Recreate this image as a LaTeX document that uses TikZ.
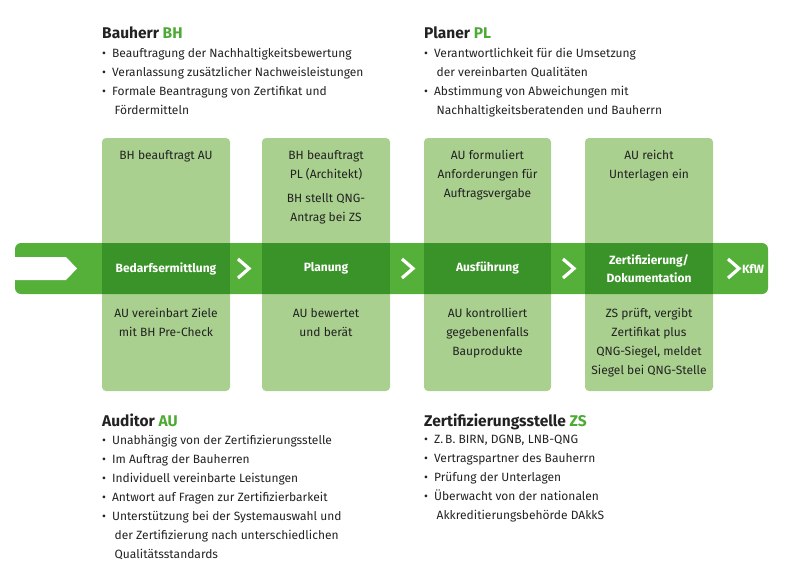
\documentclass[tikz,border=0pt]{standalone}
\usepackage{fontspec}
\setmainfont{Fira Sans}
\usetikzlibrary{calc}
\definecolor{band}{HTML}{55B03A}
\definecolor{colm}{HTML}{A9D08E}
\definecolor{dark}{HTML}{3A9328}
\definecolor{hd}{HTML}{4DAA35}
\definecolor{txt}{HTML}{222222}
\begin{document}
\begin{tikzpicture}[x=1pt,y=-1pt,
  col/.style={fill=colm,rounded corners=4pt},
  ctext/.style={align=center,font=\fontsize{12}{19}\selectfont,text=txt,anchor=north},
  stp/.style={align=center,font=\bfseries\fontsize{12}{18}\selectfont,text=white},
  chev/.style={white,line width=3.2pt},
  head/.style={anchor=north west,font=\bfseries\fontsize{15.5}{18}\selectfont,text=txt,inner sep=0},
  list/.style={anchor=north west,align=left,font=\fontsize{12}{19}\selectfont,text=txt,inner sep=0}]
\useasboundingbox (0,0) rectangle (800,587);
% columns
\foreach \a/\b in {102/230,262/390,424/551,585/713}{
  \path[col] (\a,138) rectangle (\b,391);
}
% band
\fill[band,rounded corners=6pt] (15,243) rectangle (768,294);
\fill[white] (15,257) -- (66,257) -- (77,268.5) -- (66,280) -- (15,280) -- cycle;
\foreach \a/\b in {102/230,262/390,424/551,585/713}{
  \fill[dark] (\a,243) rectangle (\b,294);
}
\foreach \x in {238,402,563,728}{
  \draw[chev] (\x,259) -- (\x+11,268.5) -- (\x,278);
}
\node[stp] (s1) at (166,268.5) {Bedarfsermittlung};
\node[stp] (s2) at (326,268.5) {Planung};
\node[stp] (s3) at (487.5,268.5) {Ausführung};
\node[stp] (s4) at (649,268.5) {Zertifizierung/\\Dokumentation};
\node[stp] (s5) at (753,268.5) {KfW};
% column texts
\node[ctext] (t1) at (166,147) {BH beauftragt AU};
\node[ctext] (t2) at (326,147) {BH beauftragt\\PL (Architekt)\\[5pt]BH stellt QNG-\\Antrag bei ZS};
\node[ctext] (t3) at (487.5,147) {AU formuliert\\Anforderungen für\\Auftragsvergabe};
\node[ctext] (t4) at (649,147) {AU reicht\\Unterlagen ein};
\node[ctext] (b1) at (166,305) {AU vereinbart Ziele\\mit BH Pre-Check};
\node[ctext] (b2) at (326,305) {AU bewertet\\und berät};
\node[ctext] (b3) at (487.5,305) {AU kontrolliert\\gegebenenfalls\\Bauprodukte};
\node[ctext] (b4) at (649,305) {ZS prüft, vergibt\\Zertifikat plus\\QNG-Siegel, meldet\\Siegel bei QNG-Stelle};
% headings
\node[head] (h1) at (102,27) {Bauherr \textcolor{hd}{BH}};
\node[list] (l1) at (102,48) {•\hspace{6pt}Beauftragung der Nachhaltigkeitsbewertung\\
•\hspace{6pt}Veranlassung zusätzlicher Nachweisleistungen\\
•\hspace{6pt}Formale Beantragung von Zertifikat und\\
\hspace{12.5pt}Fördermitteln};
\node[head] (h2) at (424,27) {Planer \textcolor{hd}{PL}};
\node[list] (l2) at (424,48) {•\hspace{6pt}Verantwortlichkeit für die Umsetzung\\
\hspace{12.5pt}der vereinbarten Qualitäten\\
•\hspace{6pt}Abstimmung von Abweichungen mit\\
\hspace{12.5pt}Nachhaltigkeitsberatenden und Bauherrn};
\node[head] (h3) at (102,414) {Auditor \textcolor{hd}{AU}};
\node[list] (l3) at (102,435) {•\hspace{6pt}Unabhängig von der Zertifizierungsstelle\\
•\hspace{6pt}Im Auftrag der Bauherren\\
•\hspace{6pt}Individuell vereinbarte Leistungen\\
•\hspace{6pt}Antwort auf Fragen zur Zertifizierbarkeit\\
•\hspace{6pt}Unterstützung bei der Systemauswahl und\\
\hspace{12.5pt}der Zertifizierung nach unterschiedlichen\\
\hspace{12.5pt}Qualitätsstandards};
\node[head] (h4) at (424,414) {Zertifizierungsstelle \textcolor{hd}{ZS}};
\node[list] (l4) at (424,435) {•\hspace{6pt}Z.\,B. BIRN, DGNB, LNB-QNG\\
•\hspace{6pt}Vertragspartner des Bauherrn\\
•\hspace{6pt}Prüfung der Unterlagen\\
•\hspace{6pt}Überwacht von der nationalen\\
\hspace{12.5pt}Akkreditierungsbehörde DAkkS};
\end{tikzpicture}
\end{document}
